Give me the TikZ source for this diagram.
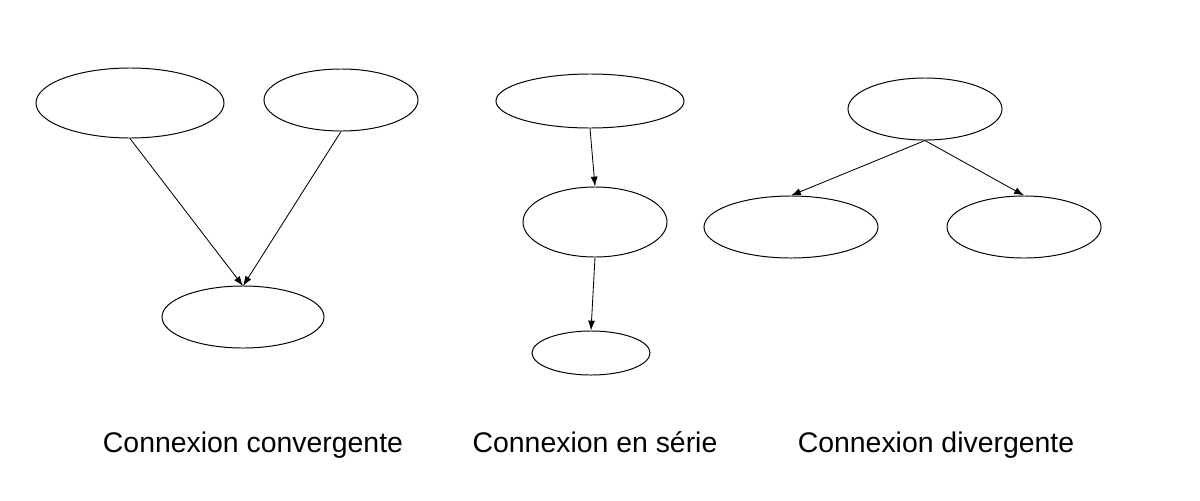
\documentclass[tikz,border=0pt]{standalone}
\usepackage{fontspec}
\setmainfont{Liberation Sans}
\usetikzlibrary{shapes.geometric,arrows.meta}
\begin{document}
\begin{tikzpicture}[x=0.025cm,y=-0.025cm,
  ell/.style={draw,ellipse,inner sep=0pt,line width=0.7pt},
  arr/.style={-{Latex[length=7pt,width=5pt]},line width=0.6pt},
  lbl/.style={font=\fontsize{20.2}{24}\selectfont,anchor=base,inner sep=0pt}]
\useasboundingbox (0,0) rectangle (1200,500);
\node[ell,minimum width=4.7cm,minimum height=1.75cm] (A) at (130,103) {};
\node[ell,minimum width=3.85cm,minimum height=1.55cm] (B) at (341,100) {};
\node[ell,minimum width=4.05cm,minimum height=1.55cm] (C) at (243,317) {};
\node[ell,minimum width=4.7cm,minimum height=1.35cm] (D) at (590,101) {};
\node[ell,minimum width=3.6cm,minimum height=1.75cm] (E) at (595,222) {};
\node[ell,minimum width=2.95cm,minimum height=1.1cm] (F) at (591,353) {};
\node[ell,minimum width=3.85cm,minimum height=1.55cm] (G) at (925,109) {};
\node[ell,minimum width=4.35cm,minimum height=1.55cm] (H) at (791,227) {};
\node[ell,minimum width=3.85cm,minimum height=1.55cm] (I) at (1024,227) {};
\coordinate (Ct) at (243,286);
\draw[arr] (A.south) -- (Ct);
\draw[arr] (B.south) -- (Ct);
\draw[arr] (D.south) -- (E.north);
\draw[arr] (E.south) -- (F.north);
\draw[arr] (G.south) -- (H.north);
\draw[arr] (G.south) -- (I.north);
\node[lbl] (L1) at (253,452) {Connexion convergente};
\node[lbl] (L2) at (595,452) {Connexion en série};
\node[lbl] (L3) at (936,452) {Connexion divergente};
\end{tikzpicture}
\end{document}
